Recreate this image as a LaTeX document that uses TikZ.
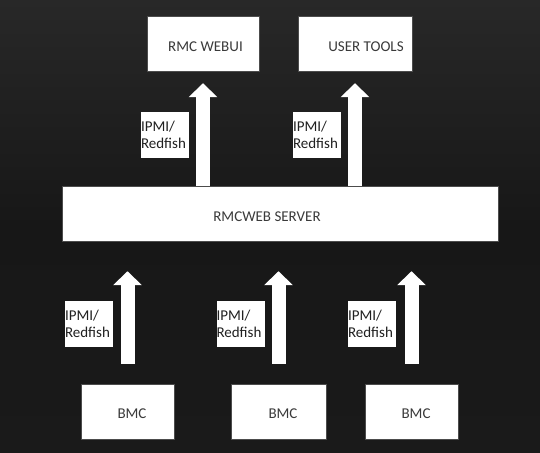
\documentclass[tikz,border=0pt]{standalone}
\usepackage{fontspec}
\setmainfont{Carlito}
\usetikzlibrary{arrows.meta}
\definecolor{bgtop}{HTML}{282828}
\definecolor{bgmid}{HTML}{171717}
\definecolor{bgbot}{HTML}{1A1A1A}
\definecolor{boxtxt}{HTML}{3A3A3A}
\definecolor{lbltxt}{HTML}{202020}
\begin{document}
\begin{tikzpicture}[x=1bp,y=1bp,
  wbox/.style={fill=white,draw=black!70,line width=0.4bp,inner sep=0pt,minimum height=55bp},
  boxtext/.style={text=boxtxt,font=\fontsize{15bp}{17bp}\selectfont,inner sep=0pt},
  lblbox/.style={fill=white,inner sep=0pt,text width=48bp,minimum height=46bp,align=left,
    text=lbltxt,font=\fontsize{15bp}{17bp}\selectfont},
  bigarrow/.style={white,line width=14bp,-{Triangle[width=28bp,length=14bp]}}]
\shade[top color=bgtop,bottom color=bgbot,middle color=bgmid] (0,0) rectangle (540,453);
\useasboundingbox (0,0) rectangle (540,453);
% boxes
\node[wbox,minimum width=112bp] (webui) at (203,409.5) {};
\node[wbox,minimum width=114bp] (tools) at (355,409.5) {};
\node[wbox,minimum width=436bp] (server) at (280,239.5) {};
\node[wbox,minimum width=93bp] (bmc1) at (127.5,41.5) {};
\node[wbox,minimum width=95bp] (bmc2) at (278.5,41.5) {};
\node[wbox,minimum width=93bp] (bmc3) at (411.5,41.5) {};
% box texts
\node[boxtext] (twebui) at ([shift={(2.5,-3.5)}]webui.center) {RMC WEBUI};
\node[boxtext] (ttools) at ([shift={(11,-3.5)}]tools.center) {USER TOOLS};
\node[boxtext] (tserver) at ([shift={(-13,-3.5)}]server.center) {RMCWEB SERVER};
\node[boxtext] (tbmc1) at ([shift={(4.5,-2.5)}]bmc1.center) {BMC};
\node[boxtext] (tbmc2) at ([shift={(4.5,-2.5)}]bmc2.center) {BMC};
\node[boxtext] (tbmc3) at ([shift={(4.5,-2.5)}]bmc3.center) {BMC};
% arrows
\draw[bigarrow,shorten >=12bp] (webui.south |- server.north) -- (webui.south);
\draw[bigarrow,shorten >=12bp] (tools.south |- server.north) -- (tools.south);
\draw[bigarrow,shorten <=20bp,shorten >=30bp] (bmc1.north) -- (bmc1.north |- server.south);
\draw[bigarrow,shorten <=20bp,shorten >=30bp] (bmc2.north) -- (bmc2.north |- server.south);
\draw[bigarrow,shorten <=20bp,shorten >=30bp] (bmc3.north) -- (bmc3.north |- server.south);
% labels
\node[lblbox] (l1) at (165,318) {IPMI/\\Redfish};
\node[lblbox] (l2) at (317,318) {IPMI/\\Redfish};
\node[lblbox] (l3) at (89,129) {IPMI/\\Redfish};
\node[lblbox] (l4) at (240.5,129) {IPMI/\\Redfish};
\node[lblbox] (l5) at (372,129) {IPMI/\\Redfish};
\end{tikzpicture}
\end{document}
